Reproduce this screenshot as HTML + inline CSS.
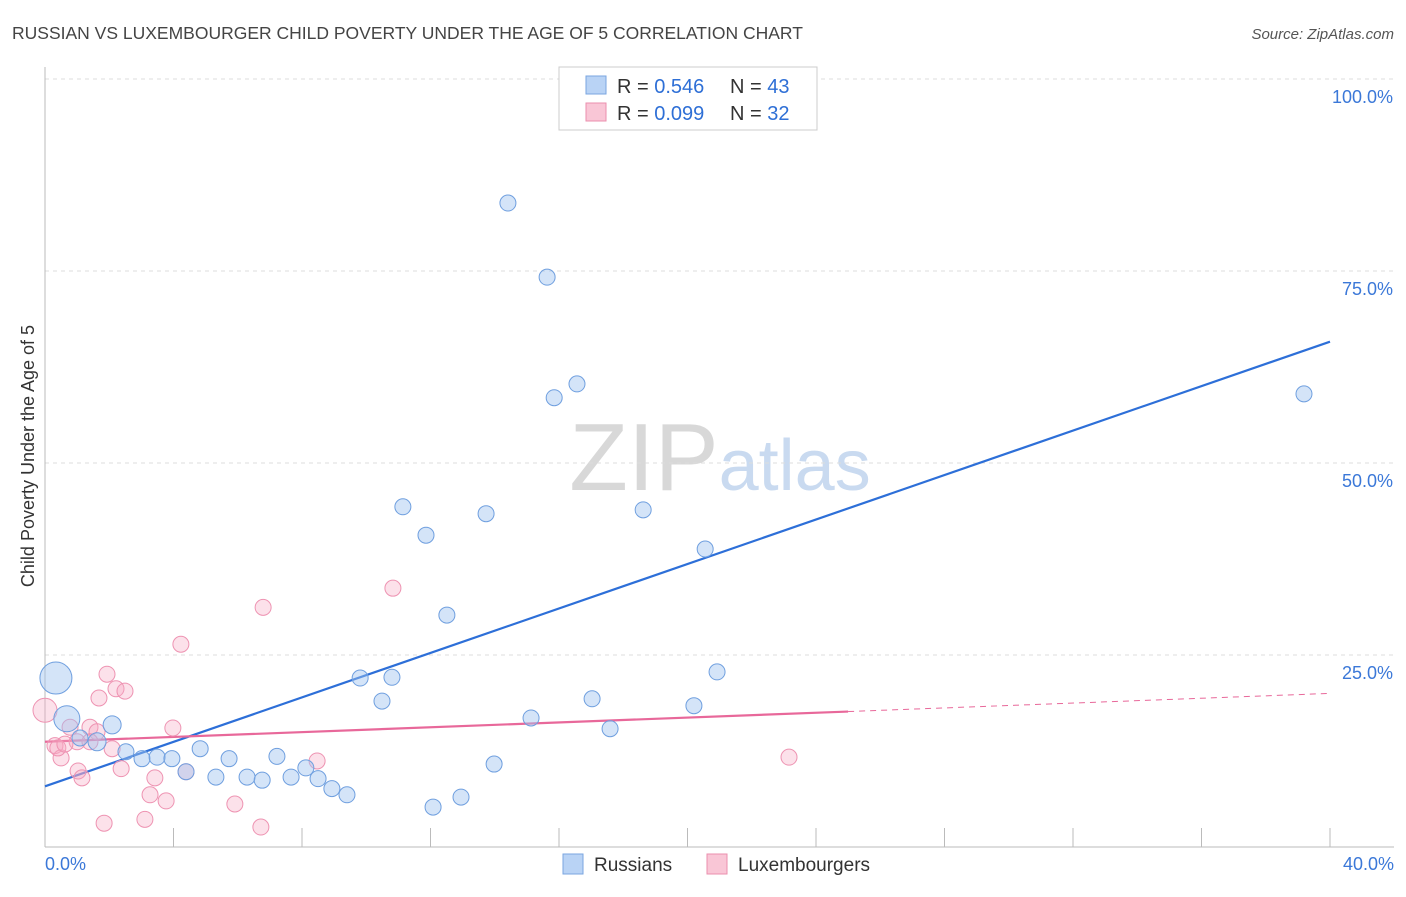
<!DOCTYPE html>
<html><head><meta charset="utf-8"><style>
body{margin:0;background:#fff;font-family:"Liberation Sans",sans-serif;}
svg text{font-family:"Liberation Sans",sans-serif;}
</style></head><body>
<svg id="chart" width="1406" height="892" xmlns="http://www.w3.org/2000/svg">
<text x="12" y="39" font-size="17.5" fill="#444">RUSSIAN VS LUXEMBOURGER CHILD POVERTY UNDER THE AGE OF 5 CORRELATION CHART</text>
<text x="1394" y="39" font-size="15" fill="#555" text-anchor="end" font-style="italic">Source: ZipAtlas.com</text>
<text x="720" y="490" font-size="96" text-anchor="middle" fill="#ddd" font-family="Liberation Serif"><tspan fill="#d8d8d8">ZIP</tspan><tspan fill="#c9daf0" font-family="Liberation Sans" font-size="72">atlas</tspan></text>
<text transform="translate(34,456) rotate(-90)" font-size="18" fill="#333" text-anchor="middle">Child Poverty Under the Age of 5</text>
<g id="grid"></g><g id="ticks"></g><g id="lines"></g><g id="pts"></g>
<g>
<rect x="559" y="67" width="258" height="63" fill="#fff" stroke="#ccc"/>
<rect x="586" y="76" width="20" height="18" fill="#b9d3f5" stroke="#7aa6e0"/>
<rect x="586" y="103" width="20" height="18" fill="#f9c6d6" stroke="#eb8fae"/>
<text x="617" y="93" font-size="20" fill="#333">R = <tspan fill="#2e6fd6">0.546</tspan></text>
<text x="730" y="93" font-size="20" fill="#333">N = <tspan fill="#2e6fd6">43</tspan></text>
<text x="617" y="120" font-size="20" fill="#333">R = <tspan fill="#2e6fd6">0.099</tspan></text>
<text x="730" y="120" font-size="20" fill="#333">N = <tspan fill="#2e6fd6">32</tspan></text>
</g>
<g>
<rect x="563" y="854" width="20" height="20" fill="#b9d3f5" stroke="#7aa6e0"/>
<text x="594" y="871" font-size="19" fill="#333">Russians</text>
<rect x="707" y="854" width="20" height="20" fill="#f9c6d6" stroke="#eb8fae"/>
<text x="738" y="871" font-size="19" fill="#333">Luxembourgers</text>
</g>
</svg>
<script>
const yTicks=[25,50,75,100];
const yTickLabels=["25.0%","50.0%","75.0%","100.0%"];
const xTickLabels=["0.0%","40.0%"];
const rusX=[14.41,15.63,16.56,15.85,39.19,11.14,13.73,18.62,11.86,20.55,12.51,20.92,9.81,10.80,10.49,17.03,20.20,15.13,17.59,0.34,0.68,2.09,1.62,1.09,2.52,3.02,3.49,3.95,4.83,4.39,5.73,5.32,6.29,6.76,7.22,7.66,8.12,8.50,8.93,9.40,13.98,12.08,12.95];
const rusY=[83.85,74.2,60.3,58.5,59.0,44.3,43.4,43.9,40.6,38.8,30.2,22.8,22.0,22.1,19.0,19.3,18.4,16.8,15.4,22.0,16.7,15.9,13.7,14.2,12.4,11.5,11.7,11.5,12.8,9.8,11.5,9.1,9.1,8.7,11.8,9.1,10.3,8.9,7.6,6.8,10.8,5.2,6.5];
const rusR=[8,8,8,8,8,8,8,8,8,8,8,8,8,8,8,8,8,8,8,16,13,9,9,8,8,8,8,8,8,8,8,8,8,8,8,8,8,8,8,8,8,8,8];
const luxX=[6.79,10.83,4.23,1.93,1.68,2.21,2.49,0,0.78,1.40,1.62,0.31,0.50,1.00,2.09,1.03,1.15,2.37,3.98,3.42,3.27,3.77,4.39,3.11,1.84,5.91,6.72,8.47,23.16,0.40,0.62,1.40];
const luxY=[31.2,33.7,26.4,22.5,19.4,20.6,20.3,17.8,15.6,15.6,15.0,13.2,11.6,13.7,12.8,9.9,9.0,10.2,15.5,9.0,6.8,6.0,9.8,3.6,3.1,5.6,2.6,11.2,11.7,12.9,13.4,13.7];
const luxR=[8,8,8,8,8,8,8,12,8,8,8,8,8,8,8,8,8,8,8,8,8,8,8,8,8,8,8,8,8,8,8,8];
const rusTrend=[7.9,65.8];
const luxTrend=[13.7,20.0];
const luxSolidEnd=25;
const X=v=>45+v*32.125, Y=v=>847-v*7.68;
const NS="http://www.w3.org/2000/svg";
function mk(p,t,a){const e=document.createElementNS(NS,t);for(const k in a)e.setAttribute(k,a[k]);document.getElementById(p).appendChild(e);return e;}
yTicks.forEach((t,i)=>{
 const g=mk('grid','line',{x1:45,x2:1394,y1:Y(t),y2:Y(t),stroke:'#ddd','stroke-dasharray':'4,4'});
 
 
 const l=mk('grid','text',{x:1393,y:Y(t)+24,'font-size':18,fill:'#3b78d8','text-anchor':'end'});l.textContent=yTickLabels[i];
 
 
});
let a=mk('ticks','line',{x1:45,x2:45,y1:67,y2:847,stroke:'#bbb'});


a=mk('ticks','line',{x1:45,x2:1394,y1:847,y2:847,stroke:'#bbb'});


for(let i=1;i<=10;i++){const t=mk('ticks','line',{x1:X(i*4),x2:X(i*4),y1:828,y2:847,stroke:'#bbb'});
 
 }
[[0,'start',45],[1,'end',1394]].forEach(([i,an,x])=>{const t=mk('ticks','text',{x:x,y:870,'font-size':18,fill:'#3b78d8','text-anchor':an});t.textContent=xTickLabels[i];
 
 });
luxX.forEach((x,i)=>{const c=mk('pts','circle',{cx:X(x),cy:Y(luxY[i]),r:luxR[i],fill:'rgba(246,170,195,0.35)',stroke:'#ee93b2','stroke-width':1});
 
 });
rusX.forEach((x,i)=>{const c=mk('pts','circle',{cx:X(x),cy:Y(rusY[i]),r:rusR[i],fill:'rgba(160,195,240,0.45)',stroke:'#6f9fdf','stroke-width':1});
 
 });
let ln=mk('lines','line',{x1:X(0),y1:Y(rusTrend[0]),x2:X(40),y2:Y(rusTrend[1]),stroke:'#2d6fd8','stroke-width':2.2});


const ly=x=>luxTrend[0]+(luxTrend[1]-luxTrend[0])*x/40;
ln=mk('lines','line',{x1:X(0),y1:Y(ly(0)),x2:X(luxSolidEnd),y2:Y(ly(luxSolidEnd)),stroke:'#e8689a','stroke-width':2.2});


ln=mk('lines','line',{x1:X(luxSolidEnd),y1:Y(ly(luxSolidEnd)),x2:X(40),y2:Y(ly(40)),stroke:'#e8689a','stroke-width':1,'stroke-dasharray':'6,5'});


</script>
</body></html>
